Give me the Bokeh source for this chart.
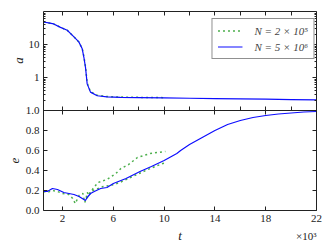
import math
from bokeh.plotting import figure
from bokeh.models import (Range1d, FixedTicker, LinearAxis, Legend, LegendItem,
                          Label, PrintfTickFormatter, LogScale)
from bokeh.embed import file_html
from bokeh.resources import INLINE

# ---- data ----
t_a_blue = [0.5, 0.9, 1.3, 1.84, 2.37, 2.9, 3.28, 3.55, 3.68, 3.81, 3.94, 4.2, 4.73, 5.5, 6.57, 8, 10, 12, 14, 16, 18, 20, 22]
a_blue   = [48, 45, 42, 33, 27, 17, 12, 7.4, 4.1, 2.0, 0.64, 0.36, 0.28, 0.26, 0.25, 0.245, 0.24, 0.235, 0.23, 0.225, 0.22, 0.215, 0.21]
t_a_green = [0.5, 0.9, 1.3, 1.84, 2.37, 2.9, 3.28, 3.55, 3.68, 3.81, 3.94, 4.2, 4.73, 5.5, 6.57, 8, 10]
a_green   = [48, 45, 42, 33, 27, 17, 12, 7.6, 4.3, 2.1, 0.68, 0.37, 0.29, 0.265, 0.255, 0.25, 0.245]

t_e_blue = [0.5, 0.8, 1.2, 1.6, 2.1, 2.5, 2.9, 3.3, 3.68, 3.8, 3.94, 4.2, 4.5, 5.0, 5.5, 6, 7, 8.1, 9, 10, 11, 11.3, 12, 13, 14, 15, 16, 17, 18, 19, 20, 21, 22]
e_blue   = [0.19, 0.19, 0.22, 0.21, 0.18, 0.17, 0.16, 0.14, 0.11, 0.10, 0.13, 0.17, 0.19, 0.22, 0.23, 0.27, 0.32, 0.39, 0.44, 0.50, 0.57, 0.60, 0.66, 0.73, 0.80, 0.86, 0.90, 0.93, 0.95, 0.965, 0.975, 0.985, 0.99]

t_e_green1 = [0.5, 0.8, 1.2, 1.6, 2.0, 2.5, 2.8, 3.0, 3.3, 3.6, 3.75, 3.85, 3.95, 4.1, 4.4, 4.8, 5.5, 6.2, 6.6, 7.2, 7.9, 8.9, 9.5, 10.1]
e_green1   = [0.19, 0.18, 0.20, 0.19, 0.17, 0.16, 0.12, 0.07, 0.15, 0.17, 0.08, 0.12, 0.18, 0.15, 0.22, 0.28, 0.31, 0.37, 0.42, 0.46, 0.53, 0.57, 0.58, 0.59]
t_e_green2 = [3.9, 4.2, 5.2, 5.8, 6.5, 7.35, 8.2, 8.9, 9.9, 10.2]
e_green2   = [0.12, 0.19, 0.24, 0.25, 0.28, 0.33, 0.38, 0.42, 0.47, 0.48]

a_ticks = [1, 10]
a_tick_labels = ["1", "10"]
a_minor = [0.2, 0.3, 0.4, 0.5, 0.6, 0.7, 0.8, 0.9, 2, 3, 4, 5, 6, 7, 8, 9, 20, 30, 40, 50, 60, 70, 80, 90]
e_ticks = [0.0, 0.2, 0.4, 0.6, 0.8, 1.0]
t_ticks = [2, 6, 10, 14, 18, 22]
t_ticks_minor = [4, 8, 12, 16, 20]
legend_labels = ["N = 2 × 10⁵", "N = 5 × 10⁶"]

# ---- geometry (pixels) ----
W, H = 332, 249
FRAME_L, FRAME_R = 43, 316        # plot area, canvas px
FRAME_T, FRAME_DIV, FRAME_B = 11, 110, 210
T0, T1 = 0.5, 22.0
PX_T = (FRAME_R - FRAME_L) / (T1 - T0)
PX_E = FRAME_B - FRAME_DIV        # px per unit of e
PX_DEC = (FRAME_DIV - FRAME_T) / 3.0  # px per decade of a
E_TOP = (FRAME_B - FRAME_T) / PX_E

x_lo = T0 - FRAME_L / PX_T
x_hi = T1 + (W - FRAME_R) / PX_T
y_lo = -(H - FRAME_B) / PX_E
y_hi = FRAME_B / PX_E


def log_a(e):
    return -1 + (e - 1) * PX_E / PX_DEC


def a_pos(v):
    return 1 + (math.log10(v) + 1) * PX_DEC / PX_E


BLUE = "#0d0dff"
GREEN = "#4caf4c"
INK = "#222222"
FONT = "Liberation Serif"

p = figure(width=W, height=H, x_range=Range1d(x_lo, x_hi), y_range=Range1d(y_lo, y_hi),
           x_axis_location=None, y_axis_location=None,
           output_backend="svg", toolbar_location=None,
           min_border_left=0, min_border_right=0, min_border_top=0, min_border_bottom=0)
p.extra_y_ranges = {"a": Range1d(10 ** log_a(y_lo), 10 ** log_a(y_hi))}
p.extra_y_scales = {"a": LogScale()}
p.grid.visible = False
p.outline_line_color = None


def make_axis(loc, bounds, ticks, minor, labels):
    ax = LinearAxis(fixed_location=loc, bounds=bounds,
                    ticker=FixedTicker(ticks=ticks, minor_ticks=minor))
    ax.major_tick_in = 4
    ax.major_tick_out = 0
    ax.minor_tick_in = 2
    ax.minor_tick_out = 0
    ax.axis_line_color = INK
    ax.major_tick_line_color = INK
    ax.minor_tick_line_color = INK
    ax.major_label_text_font = FONT
    ax.major_label_text_font_size = "11px"
    ax.major_label_text_color = INK if labels else None
    ax.major_label_standoff = 4
    return ax


y_major = e_ticks + [a_pos(v) for v in a_ticks]
y_minor = [a_pos(v) for v in a_minor]

left = make_axis(T0, (0, E_TOP), y_major, y_minor, True)
left.formatter = PrintfTickFormatter(format="%.1f")
left.major_label_overrides = {a_pos(v): s for v, s in zip(a_ticks, a_tick_labels)}
p.add_layout(left, "left")

right = make_axis(T1, (0, E_TOP), y_major, y_minor, False)
p.add_layout(right, "right")

bottom = make_axis(0, (T0, T1), t_ticks, [], True)
bottom.minor_tick_in = 0
p.add_layout(bottom, "below")

top = make_axis(E_TOP, (T0, T1), t_ticks, t_ticks_minor, False)
top.minor_tick_in = 4
p.add_layout(top, "above")

mid = make_axis(1.0, (T0, T1), t_ticks, t_ticks_minor, False)
mid.major_tick_out = 4
mid.minor_tick_in = 0
mid.minor_tick_out = 4
p.add_layout(mid, "above")

# curves
g1 = p.line(t_a_green, a_green, y_range_name="a", line_color=GREEN, line_width=1.5, line_dash="2 3")
b1 = p.line(t_a_blue, a_blue, y_range_name="a", line_color=BLUE, line_width=1.2)
p.line(t_e_green1, e_green1, line_color=GREEN, line_width=1.5, line_dash="2 3")
p.line(t_e_green2, e_green2, line_color=GREEN, line_width=1.5, line_dash="2 3")
p.line(t_e_blue, e_blue, line_color=BLUE, line_width=1.2)

legend = Legend(items=[LegendItem(label=legend_labels[0], renderers=[g1]),
                       LegendItem(label=legend_labels[1], renderers=[b1])],
                location="top_right")
legend.label_text_font = FONT
legend.label_text_font_style = "italic"
legend.label_text_font_size = "11px"
legend.label_height = 13
legend.glyph_height = 13
legend.glyph_width = 25
legend.label_standoff = 12
legend.padding = 5
legend.spacing = 3
legend.margin = 18
legend.border_line_color = INK
legend.border_line_width = 1
legend.background_fill_alpha = 1
p.add_layout(legend)

# axis names and the ×10³ multiplier
lab = dict(text_align="center", text_baseline="middle", text_font=FONT,
           text_font_style="italic", text_font_size="13px", text_color=INK)
p.add_layout(Label(x=x_lo + 18 / PX_T, y=1 + 50 / PX_E, text="a", angle=math.pi / 2, **lab))
p.add_layout(Label(x=x_lo + 14 / PX_T, y=0.5, text="e", angle=math.pi / 2, **lab))
p.add_layout(Label(x=(T0 + T1) / 2, y=-25 / PX_E, text="t", **lab))
p.add_layout(Label(x=T1, y=-25 / PX_E, text="×10³", text_align="right", text_baseline="middle",
                   text_font=FONT, text_font_size="11px", text_color=INK))

open("out.html", "w").write(file_html(p, INLINE))
